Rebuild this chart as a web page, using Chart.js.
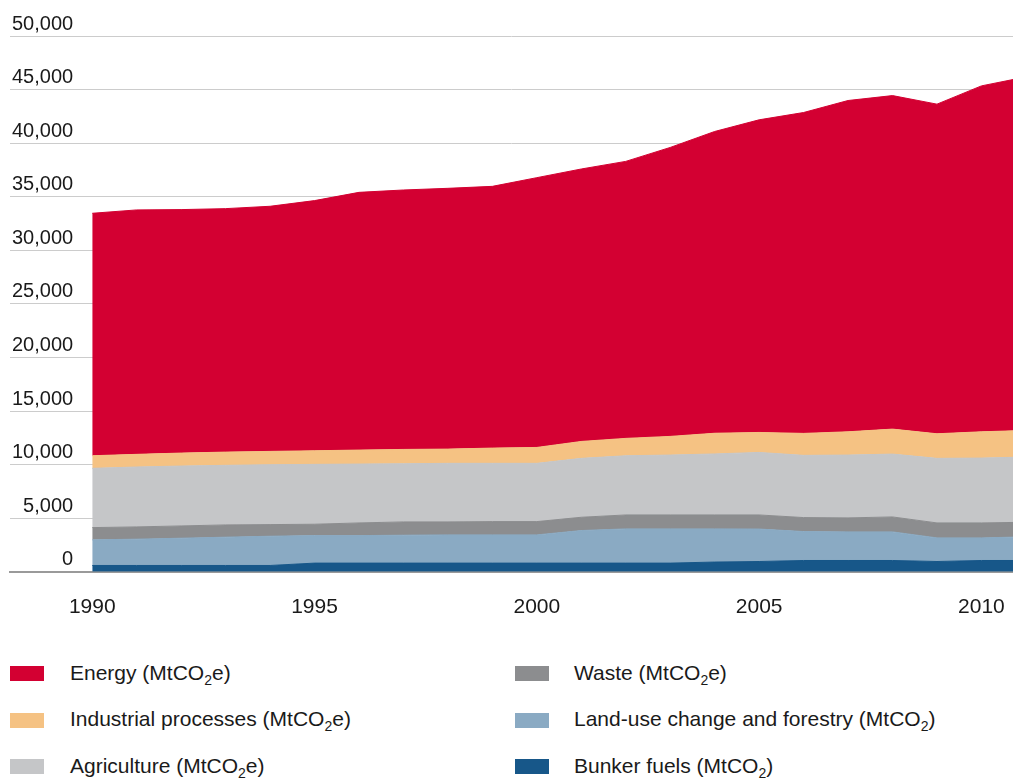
<!DOCTYPE html>
<html>
<head>
<meta charset="utf-8">
<title>Emissions by sector</title>
<script src="https://cdn.jsdelivr.net/npm/chart.js@4.4.1/dist/chart.umd.min.js"></script>
<style>
  body { margin: 0; background: #fff; font-family: "Liberation Sans", Arial, sans-serif; }
  #wrap { position: relative; width: 1013px; height: 779px; }
  #chartBox { position: absolute; left: 0; top: 0; width: 1013px; height: 643px; }
  .swatch { position: absolute; width: 34px; height: 15px; }
  .label { position: absolute; font-size: 21px; line-height: 24px; color: #1a1a1a; white-space: nowrap; }
  .label sub { font-size: 14px; vertical-align: -5px; line-height: 0; }
</style>
</head>
<body>
<div id="wrap">
  <div id="chartBox"><canvas id="emissionsChart"></canvas></div>
  <div id="legend"></div>
</div>
<script>
// values (MtCO2e), stacked bottom -> top
const years = [1990, 1991, 1992, 1993, 1994, 1995, 1996, 1997, 1998, 1999, 2000,
               2001, 2002, 2003, 2004, 2005, 2006, 2007, 2008, 2009, 2010, 2011];
const bunkerFuels = [590, 590, 590, 590, 590, 810, 810, 810, 810, 810, 810,
                     810, 810, 810, 910, 960, 1055, 1055, 1055, 960, 1055, 1055];
const landUse = [2390, 2455, 2545, 2640, 2730, 2570, 2570, 2605, 2635, 2635, 2635,
                 3040, 3195, 3195, 3095, 3030, 2700, 2670, 2670, 2205, 2110, 2205];
const waste = [1145, 1145, 1145, 1145, 1085, 1060, 1180, 1240, 1210, 1240, 1240,
               1240, 1300, 1300, 1300, 1315, 1305, 1305, 1395, 1395, 1395, 1365];
const agriculture = [5530, 5590, 5590, 5560, 5585, 5585, 5495, 5430, 5465, 5435, 5435,
                     5495, 5525, 5590, 5695, 5835, 5805, 5865, 5865, 6025, 6055, 6085];
const industrial = [1175, 1180, 1210, 1235, 1245, 1270, 1305, 1335, 1330, 1425, 1485,
                    1580, 1620, 1740, 1930, 1865, 2050, 2170, 2330, 2295, 2450, 2480];
const energy = [22625, 22810, 22720, 22720, 22875, 23345, 24050, 24210, 24335, 24425, 25175,
                25425, 25850, 26965, 28160, 29175, 29945, 30915, 31125, 30760, 32280, 32990];

const tickYears = [1990, 1995, 2000, 2005, 2010];
const yTicks = [0, 5000, 10000, 15000, 20000, 25000, 30000, 35000, 40000, 45000, 50000];

const series = [
  { name: 'Bunker fuels (MtCO₂)', html: 'Bunker fuels (MtCO<sub>2</sub>)', values: bunkerFuels, color: '#175789' },
  { name: 'Land-use change and forestry (MtCO₂)', html: 'Land-use change and forestry (MtCO<sub>2</sub>)', values: landUse, color: '#8AAAC3' },
  { name: 'Waste (MtCO₂e)', html: 'Waste (MtCO<sub>2</sub>e)', values: waste, color: '#8C8D8F' },
  { name: 'Agriculture (MtCO₂e)', html: 'Agriculture (MtCO<sub>2</sub>e)', values: agriculture, color: '#C5C6C8' },
  { name: 'Industrial processes (MtCO₂e)', html: 'Industrial processes (MtCO<sub>2</sub>e)', values: industrial, color: '#F5C283' },
  { name: 'Energy (MtCO₂e)', html: 'Energy (MtCO<sub>2</sub>e)', values: energy, color: '#D30032' }
];

const FONT = '"Liberation Sans", Arial, sans-serif';

const datasets = series.map((s, i) => ({
  label: s.name,
  data: s.values.map((v, j) => ({ x: years[j], y: v })),
  backgroundColor: s.color,
  borderColor: s.color,
  borderWidth: 1,
  pointRadius: 0,
  tension: 0,
  fill: i === 0 ? 'origin' : '-1'
}));

const ctx = document.getElementById('emissionsChart').getContext('2d');
window.emissionsChart = new Chart(ctx, {
  type: 'line',
  data: { datasets: datasets },
  options: {
    responsive: true,
    maintainAspectRatio: false,
    animation: false,
    layout: { padding: { left: 6, right: 0, top: 36, bottom: 0 } },
    plugins: {
      legend: { display: false },
      tooltip: { enabled: false }
    },
    scales: {
      x: {
        type: 'linear',
        min: 1988.15,
        max: 2010.71,
        afterBuildTicks: (scale) => { scale.ticks = tickYears.map(v => ({ value: v })); },
        // keep the plot running to the right edge
        afterFit: (scale) => { scale.paddingLeft = 0; scale.paddingRight = 0; },
        grid: { display: false, drawTicks: false },
        border: { display: true, color: '#9a9a9a', width: 2 },
        ticks: {
          autoSkip: false,
          maxRotation: 0,
          padding: 23,
          color: '#1a1a1a',
          font: { family: FONT, size: 21 },
          callback: (v) => String(v)
        }
      },
      y: {
        stacked: true,
        min: 0,
        max: 50000,
        afterBuildTicks: (scale) => { scale.ticks = yTicks.map(v => ({ value: v })); },
        grid: { color: '#cccccc', lineWidth: 1, drawTicks: false },
        border: { display: false },
        ticks: {
          mirror: true,
          crossAlign: 'far',
          padding: 2,
          labelOffset: -12,
          color: '#1a1a1a',
          font: { family: FONT, size: 20 },
          callback: (v) => v.toLocaleString('en-US')
        }
      }
    }
  }
});

// legend: two columns, same order as the reference
const legendRows = [
  { idx: 5, col: 0, row: 0 }, { idx: 4, col: 0, row: 1 }, { idx: 3, col: 0, row: 2 },
  { idx: 2, col: 1, row: 0 }, { idx: 1, col: 1, row: 1 }, { idx: 0, col: 1, row: 2 }
];
const legendEl = document.getElementById('legend');
legendRows.forEach(r => {
  const s = series[r.idx];
  const cy = 673 + r.row * 46.7;
  const sw = document.createElement('div');
  sw.className = 'swatch';
  sw.style.left = (r.col ? 515 : 10) + 'px';
  sw.style.top = (cy - 7) + 'px';
  sw.style.background = s.color;
  const lb = document.createElement('div');
  lb.className = 'label';
  lb.style.left = (r.col ? 574 : 70) + 'px';
  lb.style.top = (cy - 12.5) + 'px';
  lb.innerHTML = s.html;
  legendEl.appendChild(sw);
  legendEl.appendChild(lb);
});
</script>
</body>
</html>
